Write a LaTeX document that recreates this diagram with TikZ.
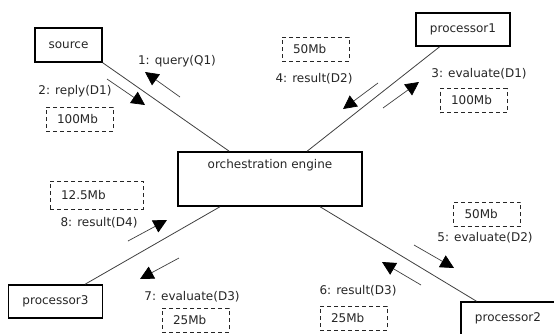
\documentclass[tikz,border=0pt]{standalone}
\usepackage{fontspec}
\setmainfont{DejaVu Sans}
\usetikzlibrary{arrows.meta,calc}
\begin{document}
\begin{tikzpicture}[x=1pt,y=-1pt,
  font=\fontsize{12}{14}\selectfont,
  every node/.style={text=black!85},
  actor/.style={draw=black, line width=1.6pt, minimum width=94pt, minimum height=33pt, inner sep=0pt},
  sizebox/.style={draw=black!85, dash pattern=on 4pt off 3pt, line width=0.9pt,
    minimum height=24pt, inner xsep=11pt, inner ysep=0pt, align=left, text width=#1},
  sizebox/.default=45pt,
  link/.style={draw=black!75, line width=0.8pt},
  msg/.style={draw=black!75, line width=0.7pt,
    -{Triangle[length=13.5pt,width=13.5pt,color=black]}},
  msglabel/.style={inner sep=0pt}
]
\path[use as bounding box, fill=white] (0,0) rectangle (554,333);

% participants
\node[actor, minimum width=67pt, minimum height=34pt] (source) at (68.5,45) {source};
\node[actor, minimum width=184pt, minimum height=54pt,
  label={[name=enginetext, anchor=center, yshift=-14pt]north:orchestration engine}] (engine) at (270,179) {};
\node[actor] (proc1) at (463,29.5) {processor1};
\node[actor] (proc3) at (55.5,301.5) {processor3};
\node[actor] (proc2) at (508,318.5) {processor2};

% links to the engine
\draw[link] (source.south east) -- ($(engine.north west)!0.28!(engine.north east)$);
\draw[link] ($(proc1.south west)!0.255!(proc1.south east)$) -- ($(engine.north west)!0.70!(engine.north east)$);
\draw[link] ($(proc3.north west)!0.81!(proc3.north east)$) -- ($(engine.south west)!0.23!(engine.south east)$);
\draw[link] ($(engine.south west)!0.77!(engine.south east)$) -- ($(proc2.north west)!0.17!(proc2.north east)$);

% message arrows
\coordinate (m1a) at (180,97);  \coordinate (m1b) at (145,72);
\coordinate (m2a) at (107,79);  \coordinate (m2b) at (145,105);
\coordinate (m3a) at (383,108); \coordinate (m3b) at (419,82);
\coordinate (m4a) at (378,83);  \coordinate (m4b) at (343,109);
\coordinate (m5a) at (414,245); \coordinate (m5b) at (454,268);
\coordinate (m6a) at (421,285); \coordinate (m6b) at (382,262);
\coordinate (m7a) at (179,258); \coordinate (m7b) at (140,279);
\coordinate (m8a) at (128,241); \coordinate (m8b) at (167,220);
\foreach \m in {1,...,8} \draw[msg] (m\m a) -- (m\m b);

% message labels
\node[msglabel] (l1) at (177,61)  {1: query(Q1)};
\node[msglabel] (l2) at (75,91)   {2: reply(D1)};
\node[msglabel] (l3) at (479,74)  {3: evaluate(D1)};
\node[msglabel] (l4) at (314,79)  {4: result(D2)};
\node[msglabel] (l5) at (485,238) {5: evaluate(D2)};
\node[msglabel] (l6) at (358,291) {6: result(D3)};
\node[msglabel] (l7) at (192,297) {7: evaluate(D3)};
\node[msglabel] (l8) at (99,223)  {8: result(D4)};

% data sizes
\node[sizebox] (s2) at (79.5,119)   {100Mb};
\node[sizebox] (s4) at (315.5,49)   {50Mb};
\node[sizebox] (s3) at (473.5,100.5) {100Mb};
\node[sizebox=71pt, minimum height=28pt] (s8) at (96.5,195) {12.5Mb};
\node[sizebox] (s7) at (195.5,320)  {25Mb};
\node[sizebox] (s5) at (487,214)    {50Mb};
\node[sizebox] (s6) at (353.5,318)  {25Mb};
\end{tikzpicture}
\end{document}
